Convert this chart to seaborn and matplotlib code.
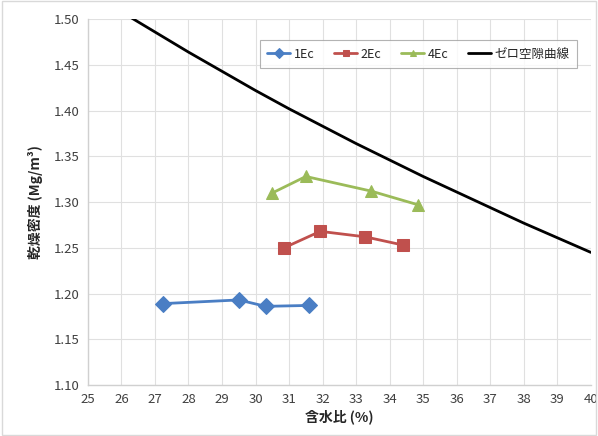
import numpy as np
import pandas as pd
import seaborn as sns
import matplotlib.pyplot as plt
from matplotlib.ticker import FormatStrFormatter

# data
w_1ec = [27.25, 29.5, 30.3, 31.6]
rho_1ec = [1.189, 1.193, 1.186, 1.187]

w_2ec = [30.85, 31.93, 33.27, 34.4]
rho_2ec = [1.250, 1.268, 1.262, 1.253]

w_4ec = [30.5, 31.5, 33.45, 34.85]
rho_4ec = [1.310, 1.328, 1.312, 1.297]

w_zero = [26.0, 27.0, 28.0, 29.0, 30.0, 31.0, 32.0, 33.0, 34.0, 35.0, 36.0, 37.0, 38.0, 39.0, 40.0]
rho_zero = [1.508, 1.486, 1.464, 1.443, 1.422, 1.402, 1.383, 1.364, 1.346, 1.328, 1.311, 1.294, 1.277, 1.261, 1.245]

series_names = ["1Ec", "2Ec", "4Ec"]
zero_name = "ゼロ空隙曲線"

sns.set_theme(style="whitegrid")
plt.rcParams["font.family"] = ["Noto Sans CJK JP", "DejaVu Sans"]

fig = plt.figure(figsize=(5.98, 4.36), dpi=100)
ax = fig.add_axes([0.147, 0.117, 0.841, 0.839])

colors = ["#4A7EC4", "#C0504D", "#9BBB59"]
markers = ["D", "s", "^"]
xs = [w_1ec, w_2ec, w_4ec]
ys = [rho_1ec, rho_2ec, rho_4ec]

for name, x, y, c, m in zip(series_names, xs, ys, colors, markers):
    df = pd.DataFrame({"w": x, "rho": y})
    sns.lineplot(data=df, x="w", y="rho", ax=ax, color=c, marker=m,
                 markersize=8, markeredgecolor=c, linewidth=2,
                 sort=False, label=name)

df_zero = pd.DataFrame({"w": w_zero, "rho": rho_zero})
sns.lineplot(data=df_zero, x="w", y="rho", ax=ax, color="black",
             linewidth=2, sort=False, label=zero_name)

ax.set_xlim(25, 40)
ax.set_ylim(1.10, 1.50)
ax.set_xticks(np.arange(25, 41, 1))
ax.set_yticks(np.arange(1.10, 1.501, 0.05))
ax.yaxis.set_major_formatter(FormatStrFormatter("%.2f"))
ax.tick_params(labelsize=9.5, colors="#404040", length=0, pad=6)

ax.grid(True, color="#E0E0E0", linewidth=0.8)
ax.set_facecolor("white")
for side in ["top", "right"]:
    ax.spines[side].set_visible(False)
for side in ["left", "bottom"]:
    ax.spines[side].set_color("#D0D0D0")
    ax.spines[side].set_linewidth(1)

ax.set_xlabel("含水比 (%)", fontsize=10, fontweight="bold", labelpad=2)
ax.set_ylabel("乾燥密度 (Mg/m³)", fontsize=10, fontweight="bold", labelpad=8)

leg = ax.legend(loc="upper right", bbox_to_anchor=(0.985, 0.96), ncol=4,
                fontsize=9, frameon=True, fancybox=False, handlelength=1.8,
                columnspacing=1.6, handletextpad=0.3, borderpad=0.6,
                markerscale=0.6)
leg.get_frame().set_edgecolor("#A0A0A0")
leg.get_frame().set_linewidth(0.8)

fig.patches.append(plt.Rectangle((0.003, 0.003), 0.994, 0.994, transform=fig.transFigure,
                                 fill=False, edgecolor="#D9D9D9", linewidth=1))

fig.savefig("out.png", dpi=100, facecolor="white")
